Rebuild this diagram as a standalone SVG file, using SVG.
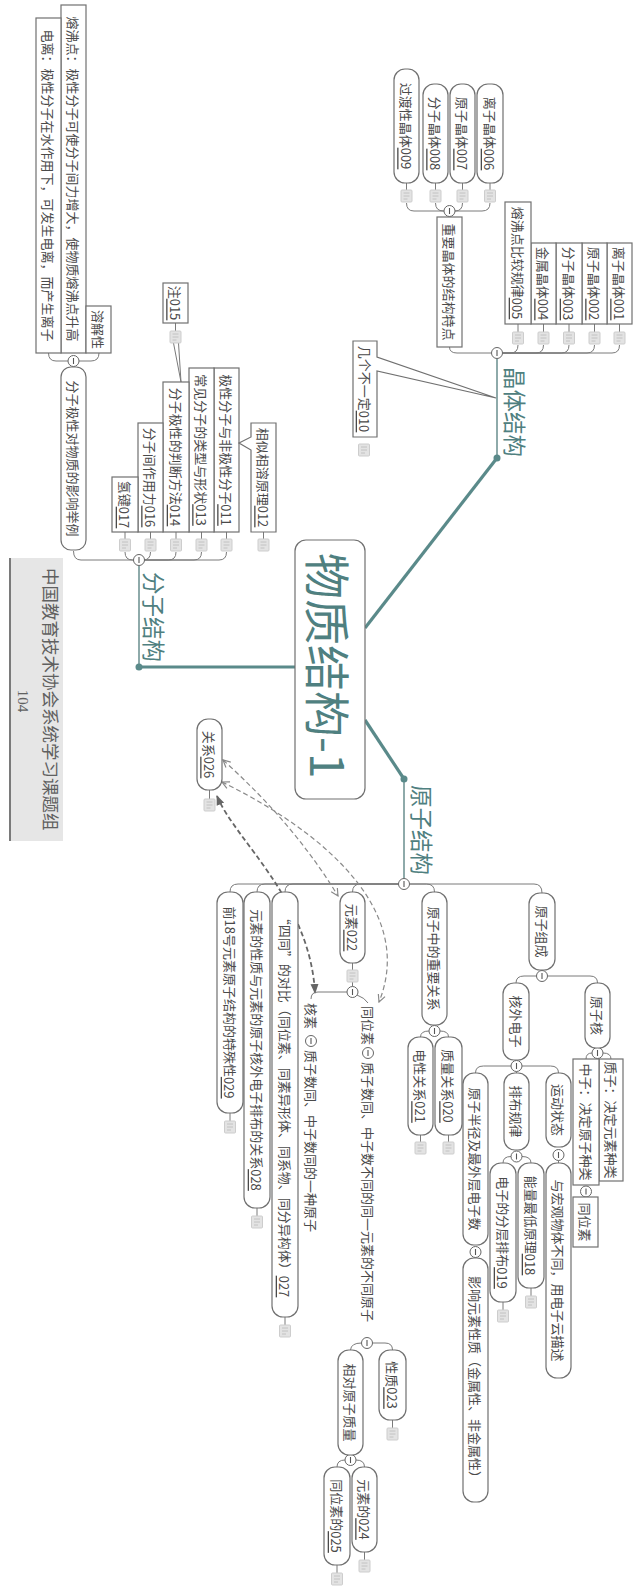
<svg xmlns="http://www.w3.org/2000/svg" width="640" height="1588" viewBox="0 0 640 1588">
<style>
.bx{fill:#fff;stroke:#707070;stroke-width:1.2}
.t{font-family:"Noto Sans CJK SC","Noto Sans",sans-serif;font-size:13px;fill:#4a4a4a;text-anchor:middle;dominant-baseline:central}
.u{text-decoration:underline}
.lbl{font-family:"Noto Sans CJK SC","Noto Sans",sans-serif;font-size:22.5px;fill:#4f8080;dominant-baseline:central}
.ln{fill:none;stroke:#7a7a7a;stroke-width:1}
.main{fill:none;stroke:#5a8a8a;stroke-width:3.2}
.stem{fill:none;stroke:#6a8f8f;stroke-width:1.5}
.dot{fill:#5a8a8a}
.da{fill:none;stroke:#8a8a8a;stroke-width:1.2;stroke-dasharray:5 3}
.dk{fill:none;stroke:#666;stroke-width:1.8;stroke-dasharray:5 3}
</style>
<defs>
<g id="ic"><rect x="-5.5" y="-6" width="11" height="12" rx="1" fill="#e3e3e3" stroke="#cdcdcd" stroke-width="1"/><path d="M-3,-3H3M-3,0H3M-3,3H1" stroke="#c2c2c2" stroke-width="1"/></g>
<g id="cc"><circle r="5.5" fill="#fff" stroke="#666" stroke-width="1"/><path d="M0,-3V3" stroke="#555" stroke-width="1.1"/></g>
<marker id="ao" viewBox="0 0 10 10" refX="9" refY="5" markerUnits="userSpaceOnUse" markerWidth="9" markerHeight="9" orient="auto-start-reverse"><path d="M1,1L9,5L1,9" fill="none" stroke="#888" stroke-width="1.3"/></marker>
<marker id="af" viewBox="0 0 10 10" refX="9" refY="5" markerUnits="userSpaceOnUse" markerWidth="10" markerHeight="10" orient="auto-start-reverse"><path d="M0,1L10,5L0,9Z" fill="#666"/></marker>
</defs>
<rect width="640" height="1588" fill="#fff"/>

<g id="connectors">
<path class="main" d="M365,628L497,458"/>
<path class="main" d="M295,667L139,667"/>
<path class="main" stroke-width="2.4" d="M365,720L404,779"/>
<path class="stem" d="M497,458V358.5M139,667V565.5M404,779V889.5"/>
<circle class="dot" cx="497" cy="458" r="3.5"/>
<circle class="dot" cx="139" cy="667" r="3.5"/>
<circle class="dot" cx="404" cy="779" r="3.5"/>
<path class="ln" d="M502.5,353H612Q619.5,353 619.5,345M502.5,353H587Q594.5,353 594.5,345M502.5,353H561.5Q569,353 569,345M502.5,353H536Q543.5,353 543.5,345M502.5,353H510.5Q518,353 518,345M491.5,353H457Q449.5,353 449.5,347"/>
<path class="ln" d="M619.5,324V332M594.5,324V332M569,324V332M543.5,324V332M518,324V332"/>
<path class="ln" d="M455,211H482Q490,211 490,203M455,211H455Q462.5,211 462.5,203M444,211H443.5Q435.5,211 435.5,203M444,211H414Q406.5,211 406.5,203"/>
<path class="ln" d="M490,183V190M462.5,183V190M435.5,183V190M406.5,183V190"/>
<path class="ln" d="M144.5,560H219Q226.5,560 226.5,552M144.5,560H194Q201.5,560 201.5,552M144.5,560H168.5Q176,560 176,552M144.5,560H143Q150.5,560 150.5,552M133.5,560H132.5Q125,560 125,552M133.5,560H81Q73.5,560 73.5,551"/>
<path class="ln" d="M226.5,532V539M201.5,532V539M176,532V539M150.5,532V539M125,532V539M263.5,532V539M175.5,323V331"/>
<path class="ln" d="M68,361H56Q48.5,361 48.5,353M79,361H91Q99,361 99,353"/>
<path class="ln" d="M173.5,343L181,382L178.5,343"/>
<path class="ln" d="M398.5,884H238Q230,884 230,892M398.5,884H265Q257,884 257,892M398.5,884H293Q285,884 285,892M398.5,884H360.5Q352.5,884 352.5,892M409.5,884H426.5Q434.5,884 434.5,892M409.5,884H534Q542,884 542,893"/>
<path class="ln" d="M230,1113V1121M257,1208V1216M285,1317V1325M352.5,963V970M352.5,982V986.5M209.5,790V799"/>
<path class="ln" d="M347,992H318Q311,992 311,999M357,995Q365,998 368,1003"/>
<path class="ln" d="M372.5,1343H385Q392.5,1343 392.5,1350M361.5,1343Q351,1343 350.5,1350M392.5,1420V1428"/>
<path class="ln" d="M356,1460Q364.5,1460 364.5,1467M345,1460Q337,1460 337,1467M364.5,1552V1560M337,1565V1573"/>
<path class="ln" d="M440,1031Q448.5,1031 448.5,1037M429,1031Q420.5,1031 420.5,1037M448.5,1135V1142M420.5,1135V1142"/>
<path class="ln" d="M547.5,976H590Q597.5,976 597.5,983M536.5,976H524Q516,976 516,983"/>
<path class="ln" d="M603,1053Q611,1053 611,1059M592,1053Q586,1053 586,1059M586,1197V1197.5"/>
<path class="ln" d="M522,1066H550.5Q558.5,1066 558.5,1073M516.5,1071.5V1073M511,1066H483.5Q475.5,1066 475.5,1073"/>
<path class="ln" d="M558.5,1160.5V1163M522,1156.5Q531,1156.5 531,1163M511,1156.5Q503,1156.5 503,1163M475.5,1257.5V1258M531,1288V1296M503,1302V1310"/>
<path class="da" marker-start="url(#ao)" marker-end="url(#ao)" d="M223,760Q295,825 338,896"/>
<path class="da" marker-start="url(#ao)" marker-end="url(#ao)" d="M222,782C300,820 420,900 379,1002"/>
<path class="dk" marker-start="url(#af)" marker-end="url(#af)" d="M217,796C235,840 310,900 315,993"/>
</g>

<g id="toggles">
<use href="#cc" x="497" y="353"/>
<use href="#cc" x="449.5" y="211"/>
<use href="#cc" x="139" y="560"/>
<use href="#cc" x="73.5" y="361"/>
<use href="#cc" x="404" y="884"/>
<use href="#cc" x="352.5" y="992"/>
<use href="#cc" x="311" y="1041"/>
<use href="#cc" x="368" y="1053"/>
<use href="#cc" x="367" y="1343"/>
<use href="#cc" x="350.5" y="1460"/>
<use href="#cc" x="434.5" y="1031"/>
<use href="#cc" x="542" y="976"/>
<use href="#cc" x="597.5" y="1053"/>
<use href="#cc" x="586" y="1191.5"/>
<use href="#cc" x="516.5" y="1066"/>
<use href="#cc" x="558.5" y="1155"/>
<use href="#cc" x="516.5" y="1156.5"/>
<use href="#cc" x="475.5" y="1252"/>
</g>

<g id="icons">
<use href="#ic" x="619.5" y="338"/><use href="#ic" x="594.5" y="338"/><use href="#ic" x="569" y="338"/><use href="#ic" x="543.5" y="338"/><use href="#ic" x="518" y="338"/>
<use href="#ic" x="490" y="196"/><use href="#ic" x="462.5" y="196"/><use href="#ic" x="435.5" y="196"/><use href="#ic" x="406.5" y="196"/>
<use href="#ic" x="364" y="450"/>
<use href="#ic" x="226.5" y="545"/><use href="#ic" x="201.5" y="545"/><use href="#ic" x="176" y="545"/><use href="#ic" x="150.5" y="545"/><use href="#ic" x="125" y="545"/><use href="#ic" x="263.5" y="545"/>
<use href="#ic" x="175.5" y="337"/>
<use href="#ic" x="209.5" y="805"/>
<use href="#ic" x="230" y="1127"/><use href="#ic" x="257" y="1222"/><use href="#ic" x="285" y="1331"/><use href="#ic" x="352.5" y="976"/>
<use href="#ic" x="448.5" y="1148"/><use href="#ic" x="420.5" y="1148"/>
<use href="#ic" x="531" y="1302"/><use href="#ic" x="503" y="1316"/>
<use href="#ic" x="392.5" y="1434"/><use href="#ic" x="364.5" y="1566"/><use href="#ic" x="337" y="1579"/>
</g>

<g id="n-root">
<rect class="bx" x="295" y="540" width="70" height="259" rx="11"/>
<text class="lbl" style="font-size:46px" transform="translate(330,553) rotate(90)">物质结构-1</text>
</g>

<g id="n-crystal"><text class="lbl" transform="translate(516,367) rotate(90)">晶体结构</text></g>
<g id="n-molecule"><text class="lbl" transform="translate(155,572) rotate(90)">分子结构</text></g>
<g id="n-atom"><text class="lbl" transform="translate(423,785) rotate(90)">原子结构</text></g>

<g id="n001"><rect class="bx" x="607" y="243" width="25" height="81"/><text class="t" transform="translate(619.5,283.5) rotate(90)">离子晶体<tspan class="u">001</tspan></text></g>
<g id="n002"><rect class="bx" x="582" y="243" width="25" height="81"/><text class="t" transform="translate(594.5,283.5) rotate(90)">原子晶体<tspan class="u">002</tspan></text></g>
<g id="n003"><rect class="bx" x="556" y="243" width="26" height="81"/><text class="t" transform="translate(569,283.5) rotate(90)">分子晶体<tspan class="u">003</tspan></text></g>
<g id="n004"><rect class="bx" x="531" y="243" width="25" height="81"/><text class="t" transform="translate(543.5,283.5) rotate(90)">金属晶体<tspan class="u">004</tspan></text></g>
<g id="n005"><rect class="bx" x="505" y="202" width="26" height="122"/><text class="t" transform="translate(518,263) rotate(90)">熔沸点比较规律<tspan class="u">005</tspan></text></g>
<g id="n-zyjt"><rect class="bx" x="437" y="217" width="25" height="130"/><text class="t" transform="translate(449.5,282) rotate(90)">重要晶体的结构特点</text></g>
<g id="n006"><rect class="bx" x="477" y="84" width="26" height="99" rx="11"/><text class="t" transform="translate(490,133.5) rotate(90)">离子晶体<tspan class="u">006</tspan></text></g>
<g id="n007"><rect class="bx" x="450" y="84" width="25" height="99" rx="11"/><text class="t" transform="translate(462.5,133.5) rotate(90)">原子晶体<tspan class="u">007</tspan></text></g>
<g id="n008"><rect class="bx" x="423" y="84" width="25" height="99" rx="11"/><text class="t" transform="translate(435.5,133.5) rotate(90)">分子晶体<tspan class="u">008</tspan></text></g>
<g id="n009"><rect class="bx" x="394" y="69" width="25" height="114" rx="11"/><text class="t" transform="translate(406.5,126) rotate(90)">过渡性晶体<tspan class="u">009</tspan></text></g>
<g id="n010"><path class="bx" d="M353,341H377V357L496,398L377,371V437H353Z"/><text class="t" transform="translate(365,389) rotate(90)">几个不一定<tspan class="u">010</tspan></text></g>

<g id="n011"><rect class="bx" x="214" y="368" width="25" height="164"/><text class="t" transform="translate(226.5,450) rotate(90)">极性分子与非极性分子<tspan class="u">011</tspan></text></g>
<g id="n012"><path class="bx" d="M251,423H276V532H251V450L239,443L251,437Z"/><text class="t" transform="translate(263.5,477.5) rotate(90)">相似相溶原理<tspan class="u">012</tspan></text></g>
<g id="n013"><rect class="bx" x="189" y="368" width="25" height="164"/><text class="t" transform="translate(201.5,450) rotate(90)">常见分子的类型与形状<tspan class="u">013</tspan></text></g>
<g id="n014"><rect class="bx" x="163" y="382" width="26" height="150"/><text class="t" transform="translate(176,457) rotate(90)">分子极性的判断方法<tspan class="u">014</tspan></text></g>
<g id="n015"><rect class="bx" x="163" y="283" width="25" height="40"/><text class="t" transform="translate(175.5,303) rotate(90)">注<tspan class="u">015</tspan></text></g>
<g id="n016"><rect class="bx" x="138" y="423" width="25" height="109"/><text class="t" transform="translate(150.5,477.5) rotate(90)">分子间作用力<tspan class="u">016</tspan></text></g>
<g id="n017"><rect class="bx" x="112" y="477" width="26" height="55"/><text class="t" transform="translate(125,504.5) rotate(90)">氢键<tspan class="u">017</tspan></text></g>
<g id="n-jl"><rect class="bx" x="61" y="367" width="25" height="183" rx="10"/><text class="t" transform="translate(73.5,458.5) rotate(90)">分子极性对物质的影响举例</text></g>
<g id="n-rfd"><rect class="bx" x="61" y="5" width="25" height="348"/><text class="t" transform="translate(73.5,179) rotate(90)">熔沸点：极性分子可使分子间力增大，使物质熔沸点升高</text></g>
<g id="n-dl"><rect class="bx" x="36" y="18" width="25" height="335"/><text class="t" transform="translate(48.5,185.5) rotate(90)">电离：极性分子在水作用下，可发生电离，而产生离子</text></g>
<g id="n-rjx"><rect class="bx" x="86" y="306" width="25" height="47"/><text class="t" transform="translate(98.5,329.5) rotate(90)">溶解性</text></g>

<g id="n026"><rect class="bx" x="197" y="719" width="25" height="71" rx="11"/><text class="t" transform="translate(209.5,754.5) rotate(90)">关系<tspan class="u">026</tspan></text></g>
<g id="n029"><rect class="bx" x="217" y="892" width="26" height="221" rx="11"/><text class="t" transform="translate(230,1002.5) rotate(90)">前18号元素原子结构的特殊性<tspan class="u">029</tspan></text></g>
<g id="n028"><rect class="bx" x="244" y="892" width="26" height="316" rx="11"/><text class="t" transform="translate(257,1050) rotate(90)">元素的性质与元素的原子核外电子排布的关系<tspan class="u">028</tspan></text></g>
<g id="n027"><rect class="bx" x="272" y="892" width="26" height="425" rx="11"/><text class="t" transform="translate(285,1104.5) rotate(90)">“四同”的对比（同位素、同素异形体、同系物、同分异构体）<tspan class="u">027</tspan></text></g>
<g id="n022"><rect class="bx" x="340" y="892" width="25" height="71" rx="11"/><text class="t" transform="translate(352.5,927.5) rotate(90)">元素<tspan class="u">022</tspan></text></g>
<g id="n-hs">
<text class="t" style="text-anchor:start" transform="translate(311,1003) rotate(90)">核素</text>
<text class="t" style="text-anchor:start" transform="translate(311,1050) rotate(90)">质子数同、中子数同的一种原子</text>
</g>
<g id="n-twx">
<text class="t" style="text-anchor:start" transform="translate(368,1006) rotate(90)">同位素</text>
<text class="t" style="text-anchor:start" transform="translate(368,1062) rotate(90)">质子数同、中子数不同的同一元素的不同原子</text>
</g>
<g id="n023"><rect class="bx" x="379" y="1350" width="27" height="70" rx="11"/><text class="t" transform="translate(392.5,1385) rotate(90)">性质<tspan class="u">023</tspan></text></g>
<g id="n-xdyz"><rect class="bx" x="338" y="1350" width="25" height="105" rx="11"/><text class="t" transform="translate(350.5,1402.5) rotate(90)">相对原子质量</text></g>
<g id="n024"><rect class="bx" x="352" y="1467" width="25" height="85" rx="11"/><text class="t" transform="translate(364.5,1509.5) rotate(90)">元素的<tspan class="u">024</tspan></text></g>
<g id="n025"><rect class="bx" x="324" y="1467" width="26" height="98" rx="11"/><text class="t" transform="translate(337,1516) rotate(90)">同位素的<tspan class="u">025</tspan></text></g>

<g id="n-zygx"><rect class="bx" x="422" y="892" width="25" height="133" rx="11"/><text class="t" transform="translate(434.5,958.5) rotate(90)">原子中的重要关系</text></g>
<g id="n020"><rect class="bx" x="435" y="1037" width="27" height="98" rx="11"/><text class="t" transform="translate(448.5,1086) rotate(90)">质量关系<tspan class="u">020</tspan></text></g>
<g id="n021"><rect class="bx" x="408" y="1037" width="25" height="98" rx="11"/><text class="t" transform="translate(420.5,1086) rotate(90)">电性关系<tspan class="u">021</tspan></text></g>

<g id="n-yzzc"><rect class="bx" x="529" y="893" width="26" height="77" rx="11"/><text class="t" transform="translate(542,931.5) rotate(90)">原子组成</text></g>
<g id="n-yzh"><rect class="bx" x="585" y="983" width="25" height="65" rx="11"/><text class="t" transform="translate(597.5,1015.5) rotate(90)">原子核</text></g>
<g id="n-zz"><rect class="bx" x="599" y="1059" width="24" height="122"/><text class="t" transform="translate(611,1120) rotate(90)">质子：决定元素种类</text></g>
<g id="n-zhz"><rect class="bx" x="573" y="1059" width="26" height="126"/><text class="t" transform="translate(586,1122) rotate(90)">中子：决定原子种类</text></g>
<g id="n-twx2"><rect class="bx" x="573" y="1197" width="25" height="50"/><text class="t" transform="translate(585.5,1222) rotate(90)">同位素</text></g>
<g id="n-hwdz"><rect class="bx" x="503" y="983" width="26" height="77" rx="11"/><text class="t" transform="translate(516,1021.5) rotate(90)">核外电子</text></g>
<g id="n-ydzt"><rect class="bx" x="546" y="1073" width="25" height="74" rx="11"/><text class="t" transform="translate(558.5,1110) rotate(90)">运动状态</text></g>
<g id="n-hgwt"><rect class="bx" x="546" y="1163" width="25" height="215" rx="11"/><text class="t" transform="translate(558.5,1270.5) rotate(90)">与宏观物体不同，用电子云描述</text></g>
<g id="n-bbgl"><rect class="bx" x="504" y="1073" width="25" height="77" rx="11"/><text class="t" transform="translate(516.5,1111.5) rotate(90)">排布规律</text></g>
<g id="n018"><rect class="bx" x="518" y="1163" width="26" height="125" rx="11"/><text class="t" transform="translate(531,1225.5) rotate(90)">能量最低原理<tspan class="u">018</tspan></text></g>
<g id="n019"><rect class="bx" x="490" y="1163" width="26" height="139" rx="11"/><text class="t" transform="translate(503,1232.5) rotate(90)">电子的分层排布<tspan class="u">019</tspan></text></g>
<g id="n-yzbj"><rect class="bx" x="463" y="1073" width="25" height="172" rx="11"/><text class="t" transform="translate(475.5,1159) rotate(90)">原子半径及最外层电子数</text></g>
<g id="n-yxxz"><rect class="bx" x="463" y="1258" width="25" height="244" rx="11"/><text class="t" transform="translate(475.5,1380) rotate(90)">影响元素性质（金属性、非金属性）</text></g>

<g id="credit">
<rect x="10" y="558" width="53" height="283" fill="#e6e6e6"/>
<path d="M10,558V841" stroke="#7a7a7a" stroke-width="2"/>
<text transform="translate(51,568) rotate(90)" style="font-family:'Noto Sans CJK SC',sans-serif;font-size:17.5px;fill:#606060;dominant-baseline:central">中国教育技术协会系统学习课题组</text>
<text transform="translate(23,701) rotate(90)" style="font-family:'Liberation Serif',serif;font-size:15px;fill:#606060;text-anchor:middle;dominant-baseline:central">104</text>
</g>
</svg>
